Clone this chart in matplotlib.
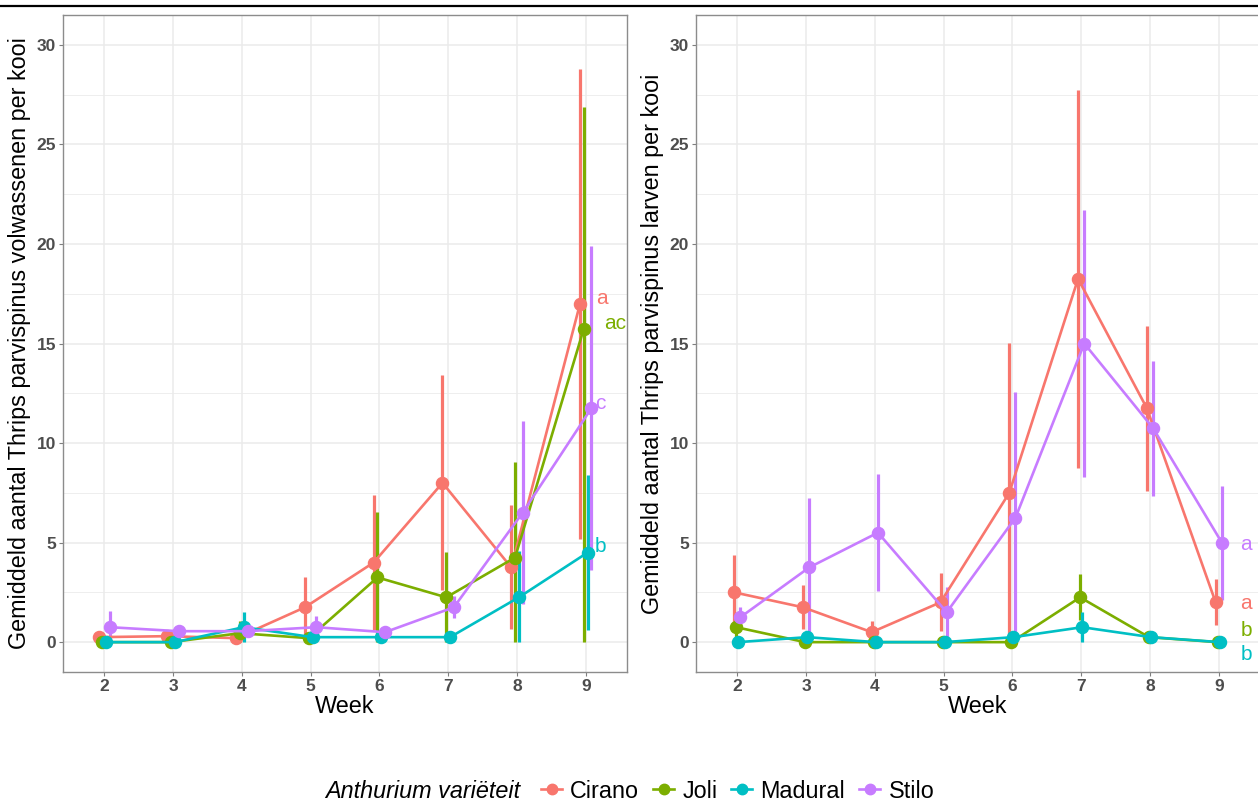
import numpy as np
import matplotlib
matplotlib.use("Agg")
import matplotlib.pyplot as plt
from matplotlib.lines import Line2D

plt.rcParams['font.family'] = ['Liberation Sans', 'DejaVu Sans']

weeks = [2, 3, 4, 5, 6, 7, 8, 9]
varieties = ['Cirano', 'Joli', 'Madural', 'Stilo']
colors = ['#F8766D', '#7CAE00', '#00BFC4', '#C77CFF']

# adults per cage: mean, lower and upper end of the interval
adult_mean = {
    'Cirano':  [0.25, 0.3, 0.2, 1.75, 4.0, 8.0, 3.75, 17.0],
    'Joli':    [0.0, 0.0, 0.45, 0.2, 3.25, 2.25, 4.25, 15.75],
    'Madural': [0.0, 0.0, 0.75, 0.25, 0.25, 0.25, 2.25, 4.5],
    'Stilo':   [0.75, 0.55, 0.55, 0.75, 0.5, 1.75, 6.5, 11.75],
}
adult_lo = {
    'Cirano':  [0.15, 0.2, 0.1, 0.1, 0.6, 2.6, 0.65, 5.2],
    'Joli':    [0.0, 0.0, 0.0, 0.0, 0.0, 0.0, 0.0, 0.0],
    'Madural': [0.0, 0.0, 0.0, 0.25, 0.25, 0.25, 0.0, 0.6],
    'Stilo':   [0.0, 0.35, 0.35, 0.15, 0.3, 1.2, 1.9, 3.6],
}
adult_hi = {
    'Cirano':  [0.35, 0.4, 0.3, 3.25, 7.4, 13.4, 6.9, 28.8],
    'Joli':    [0.0, 0.0, 1.05, 0.4, 6.55, 4.55, 9.05, 26.9],
    'Madural': [0.0, 0.0, 1.5, 0.25, 0.25, 0.25, 4.6, 8.4],
    'Stilo':   [1.57, 0.75, 0.75, 1.3, 0.7, 2.3, 11.1, 19.9],
}

# larvae per cage
larva_mean = {
    'Cirano':  [2.5, 1.75, 0.5, 2.0, 7.5, 18.25, 11.75, 2.0],
    'Joli':    [0.75, 0.0, 0.0, 0.0, 0.0, 2.25, 0.25, 0.0],
    'Madural': [0.0, 0.25, 0.0, 0.0, 0.25, 0.75, 0.25, 0.0],
    'Stilo':   [1.25, 3.75, 5.5, 1.5, 6.25, 15.0, 10.75, 5.0],
}
larva_lo = {
    'Cirano':  [0.6, 0.65, 0.0, 0.55, 0.0, 8.75, 7.6, 0.85],
    'Joli':    [0.2, 0.0, 0.0, 0.0, 0.0, 1.1, 0.25, 0.0],
    'Madural': [0.0, 0.0, 0.0, 0.0, 0.0, 0.0, 0.25, 0.0],
    'Stilo':   [0.75, 0.25, 2.55, 0.25, 0.0, 8.3, 7.35, 2.1],
}
larva_hi = {
    'Cirano':  [4.4, 2.85, 1.05, 3.45, 15.05, 27.75, 15.9, 3.15],
    'Joli':    [1.28, 0.0, 0.0, 0.0, 0.0, 3.4, 0.25, 0.0],
    'Madural': [0.0, 0.5, 0.0, 0.0, 0.5, 1.5, 0.25, 0.0],
    'Stilo':   [1.75, 7.25, 8.45, 2.75, 12.55, 21.7, 14.1, 7.85],
}

# significance letters at week 9
adult_letters = ['a', 'ac', 'b', 'c']
adult_letter_y = [17.25, 16.0, 4.8, 12.0]
larva_letters = ['a', 'b', 'b', 'a']
larva_letter_y = [1.95, 0.6, -0.6, 4.9]

W, H = 1258, 806
fig = plt.figure(figsize=(W / 100, H / 100), dpi=100)

ax1 = fig.add_axes([63 / W, (H - 672) / H, 564 / W, 657 / H])
ax2 = fig.add_axes([696 / W, (H - 672) / H, 564 / W, 657 / H])

grid_col = '#EBEBEB'
title_size = 16.8


def style_axes(ax, ylabel):
    ax.set_xlim(1.4, 9.6)
    ax.set_ylim(-1.5, 31.5)
    ax.set_xticks(weeks)
    ax.set_yticks([0, 5, 10, 15, 20, 25, 30])
    ax.set_yticks([2.5, 7.5, 12.5, 17.5, 22.5, 27.5], minor=True)
    ax.grid(which='major', color=grid_col, lw=1.1, zorder=0)
    ax.grid(which='minor', axis='y', color=grid_col, lw=0.6, zorder=0)
    ax.set_axisbelow(True)
    for s in ax.spines.values():
        s.set_color('#8C8C8C')
        s.set_linewidth(1.0)
    ax.tick_params(which='major', length=3, width=0.8, color='#7F7F7F',
                   labelsize=12.5, labelcolor='#4D4D4D', pad=2)
    ax.tick_params(which='minor', length=0)
    for lab in ax.get_xticklabels() + ax.get_yticklabels():
        lab.set_fontweight('bold')
    ax.set_xlabel('Week', fontsize=title_size, labelpad=1)
    ax.set_ylabel(ylabel, fontsize=title_size, labelpad=4)


def draw_panel(ax, mean, lo, hi, dodge):
    offsets = (np.arange(4) - 1.5) * dodge / 4
    for i, v in enumerate(varieties):
        x = np.array(weeks) + offsets[i]
        m = np.array(mean[v])
        ax.vlines(x, lo[v], hi[v], color=colors[i], lw=2.3, zorder=3)
        ax.plot(x, m, color=colors[i], lw=1.9, marker='o', ms=8.7,
                zorder=4, solid_capstyle='butt')


draw_panel(ax1, adult_mean, adult_lo, adult_hi, 0.22)
draw_panel(ax2, larva_mean, larva_lo, larva_hi, 0.12)

style_axes(ax1, 'Gemiddeld aantal Thrips parvispinus volwassenen per kooi')
style_axes(ax2, 'Gemiddeld aantal Thrips parvispinus larven per kooi')

adult_letter_x = [9.23, 9.43, 9.22, 9.21]
for i in range(4):
    ax1.text(adult_letter_x[i], adult_letter_y[i], adult_letters[i],
             color=colors[i], fontsize=15, ha='center', va='center', zorder=5)
for i in range(4):
    ax2.text(9.4, larva_letter_y[i], larva_letters[i], color=colors[i],
             fontsize=15, ha='center', va='center', zorder=5, clip_on=False)

# legend along the bottom
fig.text(325 / W, 1 - 791 / H, 'Anthurium variëteit', fontsize=title_size,
         style='italic', ha='left', va='center')
handles = [Line2D([0], [0], color=c, lw=1.9, marker='o', ms=7.5)
           for c in colors]
fig.legend(handles, varieties, loc='center left',
           bbox_to_anchor=(541 / W, 1 - 791 / H), ncol=4, frameon=False,
           fontsize=title_size, handlelength=0.9, handletextpad=0.35,
           columnspacing=0.6, borderpad=0, borderaxespad=0)

# rule across the top of the figure
fig.add_artist(Line2D([0, 1], [1 - 6 / H, 1 - 6 / H], color='black', lw=1.6,
                      transform=fig.transFigure))

fig.savefig('out.png', dpi=100)
